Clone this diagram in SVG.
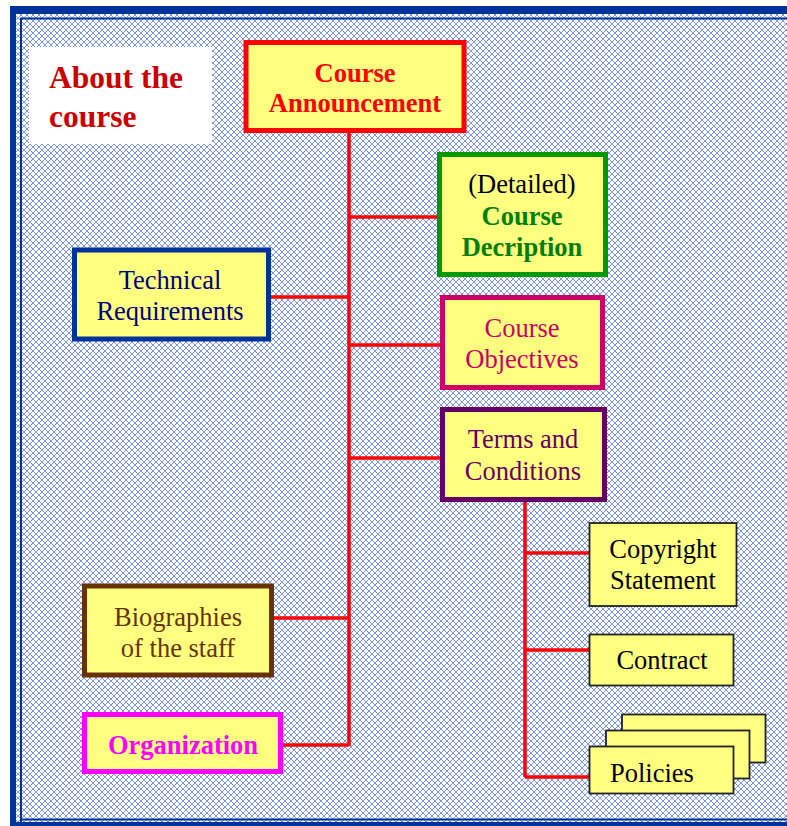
<svg xmlns="http://www.w3.org/2000/svg" width="787" height="826" viewBox="0 0 787 826">
<defs>
<pattern id="hatch" patternUnits="userSpaceOnUse" width="6" height="6">
<rect width="6" height="6" fill="#ffffff"/>
<path d="M0 0h1v1h-1zM1 1h1v1h-1zM2 2h1v1h-1zM3 3h1v1h-1zM4 4h1v1h-1zM5 5h1v1h-1zM5 0h1v1h-1zM4 1h1v1h-1zM3 2h1v1h-1zM2 3h1v1h-1zM1 4h1v1h-1zM0 5h1v1h-1z" fill="#7694f0"/>
</pattern>
</defs>
<style>
.box{fill:#ffff80;stroke-width:5}
.thin{fill:#ffff80;stroke:#222222;stroke-width:1.8}
.t{font-family:"Liberation Serif","Times New Roman",serif;font-size:26.5px;text-anchor:middle}
.b{font-weight:bold}
.con{stroke:#ff0000;stroke-width:3.5;fill:none}
</style>
<rect width="787" height="826" fill="#ffffff"/>
<rect x="10" y="6" width="777" height="820" fill="url(#hatch)"/>
<rect x="10" y="6" width="777" height="8" fill="#003399"/>
<rect x="10" y="6" width="6" height="820" fill="#003399"/>
<rect x="10" y="822" width="777" height="4" fill="#003399"/>
<path d="M21 830V18.5H790M21 819.5H790" stroke="#003399" stroke-width="2" fill="none"/>

<g id="connectors">
<path class="con" d="M349 132V746M349 217H437M270 297H349M349 345H440M349 458H440M272 618H349M282 745H349"/>
<path class="con" d="M525 500V777M525 553H589M525 650H589M525 777H589"/>
</g>

<g id="about">
<rect x="29" y="47" width="183" height="97" fill="#ffffff"/>
<text x="49" y="88" font-family="Liberation Serif, serif" font-size="31.5" font-weight="bold" fill="#cc0000">About the</text>
<text x="49" y="127" font-family="Liberation Serif, serif" font-size="31.5" font-weight="bold" fill="#cc0000">course</text>
</g>

<g id="announcement">
<rect class="box" x="246" y="42.5" width="218" height="88" stroke="#ff0000"/>
<text class="t b" x="355" y="82" fill="#ff0000">Course</text>
<text class="t b" x="355" y="112" fill="#ff0000">Announcement</text>
</g>

<g id="description">
<rect class="box" x="439.5" y="154.5" width="166" height="120" stroke="#009900"/>
<text class="t" x="522" y="193" fill="#000000">(Detailed)</text>
<text class="t b" x="522" y="225" fill="#008000">Course</text>
<text class="t b" x="522" y="256" fill="#008000">Decription</text>
</g>

<g id="technical">
<rect class="box" x="74.5" y="250" width="194" height="89" stroke="#003399"/>
<text class="t" x="170" y="289" fill="#000080">Technical</text>
<text class="t" x="170" y="320" fill="#000080">Requirements</text>
</g>

<g id="objectives">
<rect class="box" x="442.5" y="297.5" width="160" height="90" stroke="#cc0066"/>
<text class="t" x="522" y="337" fill="#cc0066">Course</text>
<text class="t" x="522" y="368" fill="#cc0066">Objectives</text>
</g>

<g id="terms">
<rect class="box" x="442.5" y="409.5" width="162" height="90" stroke="#660066"/>
<text class="t" x="523" y="448" fill="#660066">Terms and</text>
<text class="t" x="523" y="480" fill="#660066">Conditions</text>
</g>

<g id="copyright">
<rect class="thin" x="589.5" y="523" width="147" height="83"/>
<text class="t" x="663" y="558" fill="#000000">Copyright</text>
<text class="t" x="663" y="589" fill="#000000">Statement</text>
</g>

<g id="contract">
<rect class="thin" x="589.5" y="634.5" width="144" height="51"/>
<text class="t" x="662" y="669" fill="#000000">Contract</text>
</g>

<g id="policies">
<rect class="thin" x="622" y="714.5" width="143.5" height="48"/>
<rect class="thin" x="606" y="730.5" width="143.5" height="48"/>
<rect class="thin" x="589.5" y="746.5" width="144" height="47"/>
<text class="t" x="610" y="782" fill="#000000" style="text-anchor:start">Policies</text>
</g>

<g id="biographies">
<rect class="box" x="84.5" y="586" width="187" height="89" stroke="#663300"/>
<text class="t" x="178" y="626" fill="#663300">Biographies</text>
<text class="t" x="178" y="657" fill="#663300">of the staff</text>
</g>

<g id="organization">
<rect class="box" x="84.5" y="714.5" width="196" height="57" stroke="#ff00ff"/>
<text class="t b" x="183" y="754" fill="#ff00ff">Organization</text>
</g>
</svg>
